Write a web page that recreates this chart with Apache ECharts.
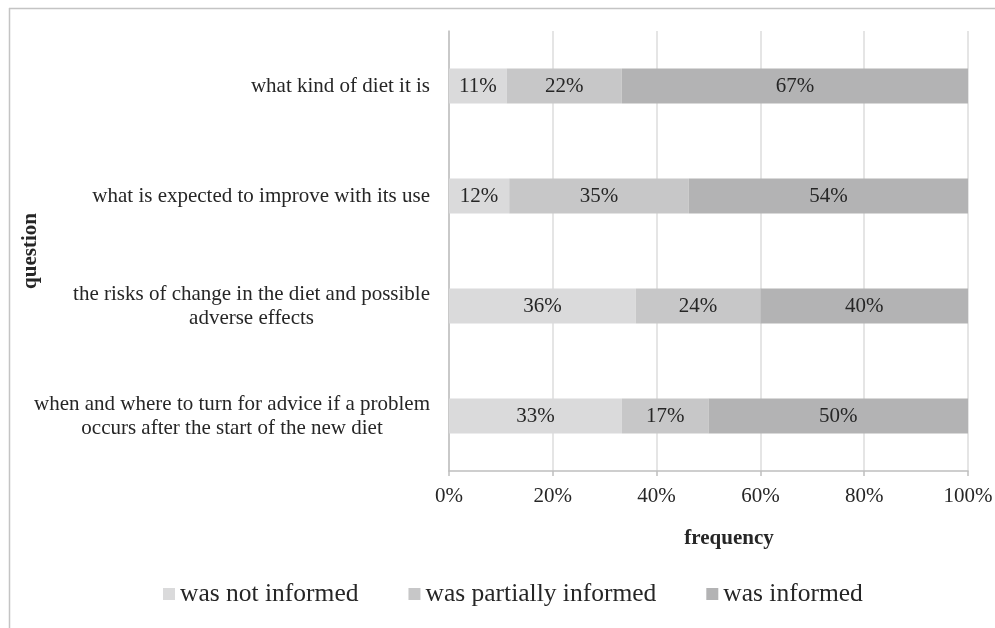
<!DOCTYPE html>
<html>
<head>
<meta charset="utf-8">
<script src="https://cdn.jsdelivr.net/npm/echarts@6/dist/echarts.min.js"></script>
<style>
html,body{margin:0;padding:0;background:#fff;}
#chart{width:995px;height:628px;}
</style>
</head>
<body>
<div id="chart"></div>
<script>
// ---- data ----
var categories = [
  'what kind of diet it is',
  'what is expected to improve with its use',
  'the risks of change in the diet and possible\nadverse effects',
  'when and where to turn for advice if a problem\noccurs after the start of the new diet'
];
var seriesNames = ['was not informed', 'was partially informed', 'was informed'];
var notInformed = [11.1, 11.6, 36.0, 33.3];
var partiallyInformed = [22.2, 34.6, 24.0, 16.7];
var informed = [66.7, 53.8, 40.0, 50.0];
var xTicks = [0, 20, 40, 60, 80, 100];
var xAxisTitle = 'frequency';
var yAxisTitle = 'question';

var FONT = '"Liberation Serif", "Times New Roman", serif';
var TXT = '#262626';
var colors = ['#dadadb', '#c7c7c8', '#b3b3b4'];

var chart = echarts.init(document.getElementById('chart'));

function mkSeries(name, data, color) {
  return {
    name: name,
    type: 'bar',
    stack: 'total',
    data: data,
    barWidth: '32%',
    itemStyle: { color: color },
    label: {
      show: true,
      position: 'inside',
      formatter: function (p) { return Math.round(p.value) + '%'; },
      fontFamily: FONT,
      fontSize: 21,
      color: TXT
    },
    emphasis: { disabled: true }
  };
}

var option = {
  animation: false,
  backgroundColor: '#fff',
  textStyle: { fontFamily: FONT, color: TXT },
  graphic: [
    { type: 'line', shape: { x1: 9, y1: 8.5, x2: 995, y2: 8.5 }, style: { stroke: '#c4c4c4', lineWidth: 1.5 }, silent: true },
    { type: 'line', shape: { x1: 9.5, y1: 8, x2: 9.5, y2: 628 }, style: { stroke: '#c4c4c4', lineWidth: 1.5 }, silent: true }
  ],
  grid: { left: 449, right: 27, top: 31, bottom: 157, containLabel: false, outerBoundsMode: 'none' },
  legend: {
    data: seriesNames,
    left: 163,
    top: 581,
    padding: 0,
    itemWidth: 12,
    itemHeight: 12,
    itemGap: 50,
    icon: 'rect',
    selectedMode: false,
    textStyle: { fontFamily: FONT, fontSize: 25.5, color: TXT }
  },
  xAxis: {
    type: 'value',
    min: xTicks[0],
    max: xTicks[xTicks.length - 1],
    interval: xTicks[1] - xTicks[0],
    name: xAxisTitle,
    nameLocation: 'middle',
    nameGap: 57,
    nameMoveOverlap: false,
    nameTextStyle: { fontFamily: FONT, fontSize: 21, fontWeight: 'bold', color: TXT, padding: [0, 0, 0, 41] },
    axisLine: { show: true, lineStyle: { color: '#bfbfbf', width: 1.5 } },
    axisTick: { show: true, length: 5, lineStyle: { color: '#bfbfbf', width: 1.5 } },
    axisLabel: {
      fontFamily: FONT, fontSize: 21, color: TXT, margin: 15,
      formatter: function (v) { return v + '%'; }
    },
    splitLine: { show: true, lineStyle: { color: '#dcdcdc', width: 1.5 } }
  },
  yAxis: {
    type: 'category',
    data: categories,
    inverse: true,
    name: yAxisTitle,
    nameLocation: 'middle',
    nameRotate: 90,
    nameGap: 408,
    nameMoveOverlap: false,
    nameTextStyle: { fontFamily: FONT, fontSize: 21, fontWeight: 'bold', color: TXT },
    axisLine: { show: true, lineStyle: { color: '#bfbfbf', width: 1.5 } },
    axisTick: { show: false },
    axisLabel: {
      margin: 19,
      formatter: function (v) {
        return v.split('\n').map(function (l) { return '{c|' + l + '}'; }).join('\n');
      },
      rich: {
        c: { align: 'center', fontFamily: FONT, fontSize: 21, lineHeight: 24, color: TXT }
      }
    }
  },
  series: [
    mkSeries(seriesNames[0], notInformed, colors[0]),
    mkSeries(seriesNames[1], partiallyInformed, colors[1]),
    mkSeries(seriesNames[2], informed, colors[2])
  ]
};
chart.setOption(option);
</script>
</body>
</html>
